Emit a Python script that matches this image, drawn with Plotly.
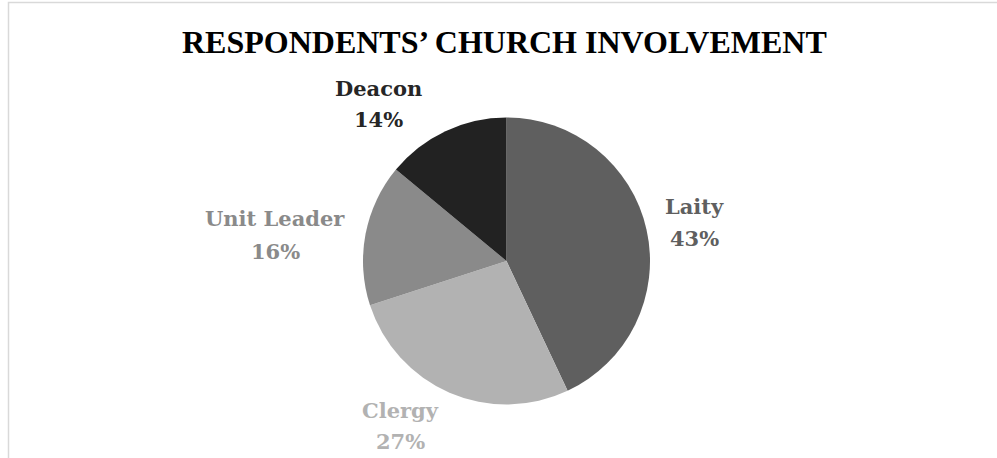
import plotly.graph_objects as go

categories = ["Laity", "Clergy", "Unit Leader", "Deacon"]
values = [43, 27, 16, 14]
slice_colors = ["#5f5f5f", "#b2b2b2", "#8a8a8a", "#222222"]
label_colors = ["#5f5f5f", "#b2b2b2", "#8a8a8a", "#262626"]
title_text = "RESPONDENTS’ CHURCH INVOLVEMENT"

W, H = 997, 458
cx, cy, r = 506.5, 261, 143.5

fig = go.Figure()
fig.add_trace(go.Pie(
    labels=categories, values=values, sort=False, direction="clockwise", rotation=0,
    marker=dict(colors=slice_colors, line=dict(width=0)),
    textinfo="none", hoverinfo="label+percent", showlegend=False,
    domain=dict(x=[(cx - r) / W, (cx + r) / W], y=[(H - cy - r) / H, (H - cy + r) / H]),
))

# label positions (pixels: x center, y of name line, y of percent line)
label_pos = {"Laity": (694, 206, 238), "Clergy": (400, 410, 441),
             "Unit Leader": (275, 218, 252), "Deacon": (378, 88, 119)}
total = sum(values)
for cat, v, col in zip(categories, values, label_colors):
    px, py1, py2 = label_pos[cat]
    for txt, py in ((cat, py1), (f"{round(100 * v / total)}%", py2)):
        fig.add_annotation(
            x=px / W, y=1 - py / H, xref="paper", yref="paper", showarrow=False,
            text=f"<b>{txt}</b>",
            font=dict(family="DejaVu Serif", size=21, color=col),
            align="center", xanchor="center", yanchor="middle",
        )

fig.add_annotation(
    x=505 / W, y=1 - 42 / H, xref="paper", yref="paper", showarrow=False,
    text=f"<b>{title_text}</b>",
    font=dict(family="Liberation Serif", size=32, color="#000000"),
    xanchor="center", yanchor="middle",
)

fig.add_shape(type="rect", xref="paper", yref="paper",
              x0=8.5 / W, x1=1.05, y0=-0.05, y1=1 - 2.5 / H,
              line=dict(color="#d9d9d9", width=1.5), fillcolor="rgba(0,0,0,0)")

fig.update_layout(width=W, height=H, margin=dict(l=0, r=0, t=0, b=0),
                  paper_bgcolor="white", plot_bgcolor="white")
fig.write_html("out.html")
